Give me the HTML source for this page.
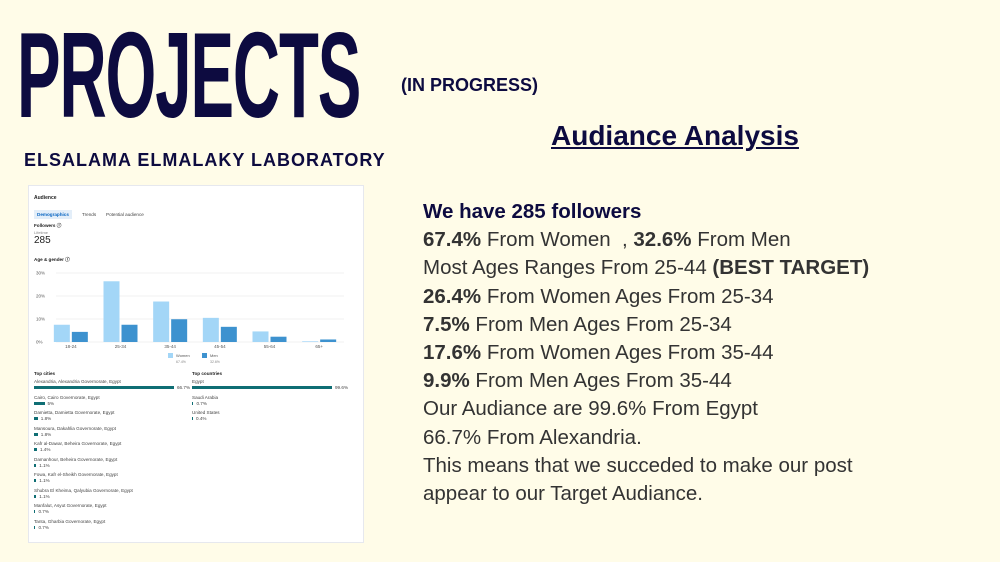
<!DOCTYPE html>
<html><head><meta charset="utf-8"><style>
body{margin:0;width:1000px;height:562px;background:#fffce8;font-family:"Liberation Sans",sans-serif;position:relative;overflow:hidden}
.a{position:absolute}
#title{left:17px;top:14px;font-size:122px;font-weight:bold;color:#0d0b40;transform:scaleX(0.535);transform-origin:0 0;letter-spacing:-2px;line-height:1;white-space:nowrap}
#prog{left:401px;top:75px;font-size:18px;font-weight:bold;color:#0d0b40}
#lab{left:24px;top:150px;font-size:18px;font-weight:bold;color:#0d0b40;letter-spacing:1px;white-space:nowrap}
#head{left:551px;top:120px;font-size:28px;font-weight:bold;color:#0d0b40;text-decoration:underline;white-space:nowrap}
#txt{left:423px;top:198px;font-size:20.5px;line-height:28.2px;color:#333;white-space:nowrap}
#txt b{color:#333}
#card{left:28px;top:185px;width:334px;height:356px;background:#fff;border:1px solid #e6e8ee;font-size:5px;color:#333}
.row{position:absolute;font-size:4.6px;color:#444;white-space:nowrap}
.bar{position:absolute;height:3px;background:#0f6e74}
</style></head><body>
<div class="a" id="title">PROJECTS</div>
<div class="a" id="prog">(IN PROGRESS)</div>
<div class="a" id="lab">ELSALAMA ELMALAKY LABORATORY</div>
<div class="a" id="head">Audiance Analysis</div>
<div class="a" id="txt">
<b style="color:#0d0b40">We have 285 followers</b><br>
<b>67.4%</b> From Women &nbsp;, <b>32.6%</b> From Men<br>
Most Ages Ranges From 25-44 <b>(BEST TARGET)</b><br>
<b>26.4%</b> From Women Ages From 25-34<br>
<b>7.5%</b> From Men Ages From 25-34<br>
<b>17.6%</b> From Women Ages From 35-44<br>
<b>9.9%</b> From Men Ages From 35-44<br>
Our Audiance are 99.6% From Egypt<br>
66.7% From Alexandria.<br>
This means that we succeded to make our post<br>
appear to our Target Audiance.
</div>
<div class="a" id="card">
<div class="row" style="left:5px;top:9px;font-weight:bold;font-size:5px;color:#222">Audience</div>
<div class="row" style="left:5px;top:24px;background:#e3eef9;padding:2px 3px;color:#0a66c2;font-weight:bold">Demographics</div>
<div class="row" style="left:53px;top:26px">Trends</div>
<div class="row" style="left:77px;top:26px">Potential audience</div>
<div class="row" style="left:5px;top:37px;font-weight:bold;color:#222">Followers ⓘ</div>
<div class="row" style="left:5px;top:44px;font-size:4px;color:#888">Lifetime</div>
<div class="row" style="left:5px;top:49px;font-size:10px;color:#222">285</div>
<div class="row" style="left:5px;top:71px;font-weight:bold;color:#222">Age &amp; gender ⓘ</div>
<svg class="a" id="chart" style="left:0;top:0" width="334" height="190"></svg>
<div class="row" style="left:5px;top:185px;font-weight:bold;color:#222">Top cities</div>
<div class="row" style="left:163px;top:185px;font-weight:bold;color:#222">Top countries</div>
<div id="lists"></div>
</div>
<script>
const categories=["18-24","25-34","35-44","45-54","55-64","65+"];
const women=[7.5,26.4,17.6,10.5,4.6,0.3];
const men=[4.4,7.5,9.9,6.6,2.3,1.1];
const yTicks=[0,10,20,30];
const cities=["Alexandria, Alexandria Governorate, Egypt","Cairo, Cairo Governorate, Egypt","Damietta, Damietta Governorate, Egypt","Mansoura, Dakahlia Governorate, Egypt","Kafr al-Dawar, Beheira Governorate, Egypt","Damanhour, Beheira Governorate, Egypt","Fowa, Kafr el-Sheikh Governorate, Egypt","Shubra El Kheima, Qalyubia Governorate, Egypt","Manfalut, Asyut Governorate, Egypt","Tanta, Gharbia Governorate, Egypt"];
const cityPct=[66.7,5,1.8,1.8,1.4,1.1,1.1,1.1,0.7,0.7];
const countries=["Egypt","Saudi Arabia","United States"];
const countryPct=[99.6,0.7,0.4];
const NS="http://www.w3.org/2000/svg";
const svg=document.getElementById('chart');
const x0=17,x1=315,yTop=87,yBot=156;
const y=v=>yBot-(v/30)*(yBot-yTop);
const gw=(x1-x0)/categories.length;
const cx=i=>x0+gw*(i+0.5);
function mk(t,a){const e=document.createElementNS(NS,t);for(const k in a)e.setAttribute(k,a[k]);svg.appendChild(e);return e;}
yTicks.forEach(t=>{
 const l=mk('line',{x1:x0+10,x2:x1,y1:y(t),y2:y(t),stroke:'#e3e3e3','stroke-width':0.6});
 
 
 const tx=mk('text',{x:x0-10,y:y(t)+1.5,'font-size':4.5,fill:'#555'});tx.textContent=t+'%';
 
 
});
categories.forEach((c,i)=>{
 const bw=16;
 const r1=mk('rect',{x:cx(i)-bw-1,y:y(women[i]),width:bw,height:yBot-y(women[i]),fill:'#a3d6f7'});
 
 
 const r2=mk('rect',{x:cx(i)+1,y:y(men[i]),width:bw,height:yBot-y(men[i]),fill:'#3d92cf'});
 
 
 const tx=mk('text',{x:cx(i),y:yBot+6,'font-size':4.5,fill:'#555','text-anchor':'middle'});tx.textContent=c;
 
 
});
[['#a3d6f7','Women','67.4%',139],['#3d92cf','Men','32.6%',173]].forEach(l=>{
 const r=mk('rect',{x:l[3],y:167,width:5,height:5,fill:l[0]});
 
 
 const t=mk('text',{x:l[3]+8,y:171,'font-size':4,fill:'#555'});t.textContent=l[1];
 
 
 const t2=mk('text',{x:l[3]+8,y:177,'font-size':3.5,fill:'#888'});t2.textContent=l[2];
 
 
});
const lists=document.getElementById('lists');
function addList(names,pcts,left,maxW){
 names.forEach((n,i)=>{
  const top=193+i*15.5;
  const d=document.createElement('div');d.className='row';d.style.left=left+'px';d.style.top=top+'px';d.textContent=n;
  
  
  lists.appendChild(d);
  const w=Math.max(1,pcts[i]/100*maxW*1.5);
  const b=document.createElement('div');b.className='bar';b.style.left=left+'px';b.style.top=(top+7)+'px';b.style.width=Math.min(w,maxW)+'px';
  
  
  lists.appendChild(b);
  const p=document.createElement('div');p.className='row';p.style.left=(left+Math.min(w,maxW)+3)+'px';p.style.top=(top+6)+'px';p.textContent=pcts[i]+'%';
  
  
  lists.appendChild(p);
 });
}
addList(cities,cityPct,5,140);
addList(countries,countryPct,163,140);
</script>
</body></html>
